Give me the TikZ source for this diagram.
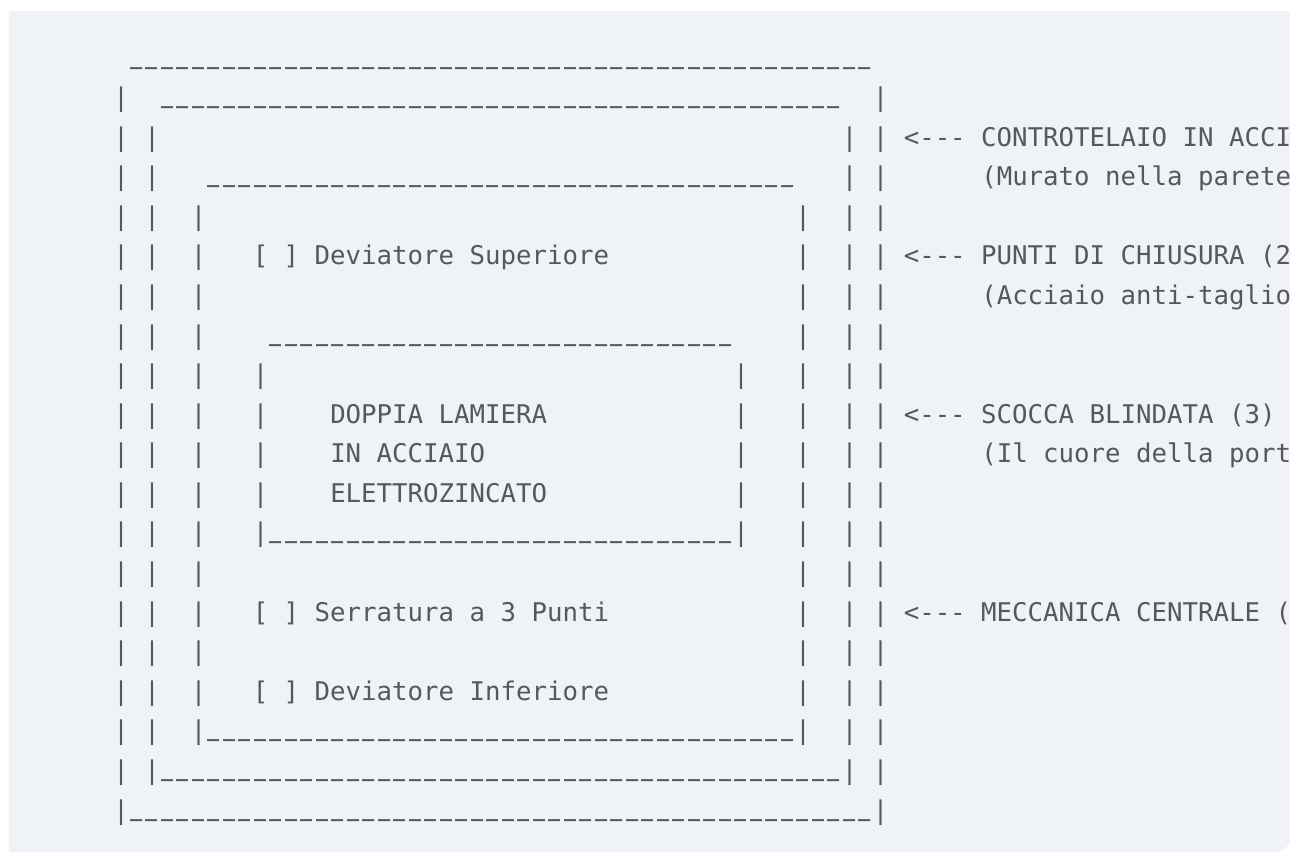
\documentclass[tikz,border=0pt]{standalone}
\usepackage{fontspec}
\setmonofont{DejaVu Sans Mono}
\definecolor{panelgray}{HTML}{EFF2F7}
\definecolor{inkgray}{HTML}{55585D}

\newcommand{\usc}{\makebox[7.75pt][c]{\raisebox{5pt}{\scalebox{0.78}[2]{\_}}}}
\newcommand{\usrun}[1]{\foreach \k in {1,...,#1}{\usc}}

\begin{document}
\begin{tikzpicture}[x=0.5pt, y=-0.5pt,
        ascii/.style={anchor=base west, inner sep=0pt, outer sep=0pt, text=inkgray,
          text height=8pt, text depth=2pt,
          font=\ttfamily\fontsize{12.87pt}{14pt}\selectfont}]
      \useasboundingbox (0,0) rectangle (1290,852);
      \fill[panelgray] (9,11) -- (1290,11) -- (1290,800) [rounded corners=7pt] -- (1290,852)
        -- (600,852) [sharp corners] -- (9,852) -- cycle;
      \begin{scope}
      \clip (0,0) rectangle (1290,852);
      \begin{scope}[shift={(113.25,67)}, x=7.75pt, y=-19.79pt]
        % frame
        \node[ascii] (frameTop) at (1,0) {\usrun{48}};
        \foreach \r in {1,...,19} {
          \node[ascii] (frameL\r) at (0,\r) {|};
          \node[ascii] (frameR\r) at (49,\r) {|};
        }
        \node[ascii] (frameBot) at (1,19) {\usrun{48}};
        % body
        \node[ascii] (bodyTop) at (3,1) {\usrun{44}};
        \foreach \r in {2,...,18} {
          \node[ascii] (bodyL\r) at (2,\r) {|};
          \node[ascii] (bodyR\r) at (47,\r) {|};
        }
        \node[ascii] (bodyBot) at (3,18) {\usrun{44}};
        % leaf
        \node[ascii] (leafTop) at (6,3) {\usrun{38}};
        \foreach \r in {4,...,17} {
          \node[ascii] (leafL\r) at (5,\r) {|};
          \node[ascii] (leafR\r) at (44,\r) {|};
        }
        \node[ascii] (leafBot) at (6,17) {\usrun{38}};
        % core
        \node[ascii] (coreTop) at (10,7) {\usrun{30}};
        \foreach \r in {8,...,12} {
          \node[ascii] (coreL\r) at (9,\r) {|};
          \node[ascii] (coreR\r) at (40,\r) {|};
        }
        \node[ascii] (coreBot) at (10,12) {\usrun{30}};
        % parts
        \node[ascii] (upper) at (9,5) {[ ] Deviatore Superiore};
        \node[ascii] (sheet1) at (14,9) {DOPPIA LAMIERA};
        \node[ascii] (sheet2) at (14,10) {IN ACCIAIO};
        \node[ascii] (sheet3) at (14,11) {ELETTROZINCATO};
        \node[ascii] (lock) at (9,14) {[ ] Serratura a 3 Punti};
        \node[ascii] (lower) at (9,16) {[ ] Deviatore Inferiore};
        % notes
        \node[ascii] (noteFrame) at (51,2) {<--- CONTROTELAIO IN ACCI};
        \node[ascii] (noteFrameSub) at (56,3) {(Murato nella parete};
        \node[ascii] (notePoints) at (51,5) {<--- PUNTI DI CHIUSURA (2};
        \node[ascii] (notePointsSub) at (56,6) {(Acciaio anti-taglio};
        \node[ascii] (noteShell) at (51,9) {<--- SCOCCA BLINDATA (3)};
        \node[ascii] (noteShellSub) at (56,10) {(Il cuore della port};
        \node[ascii] (noteLock) at (51,14) {<--- MECCANICA CENTRALE (};
      \end{scope}
      \end{scope}
    \end{tikzpicture}
\end{document}
